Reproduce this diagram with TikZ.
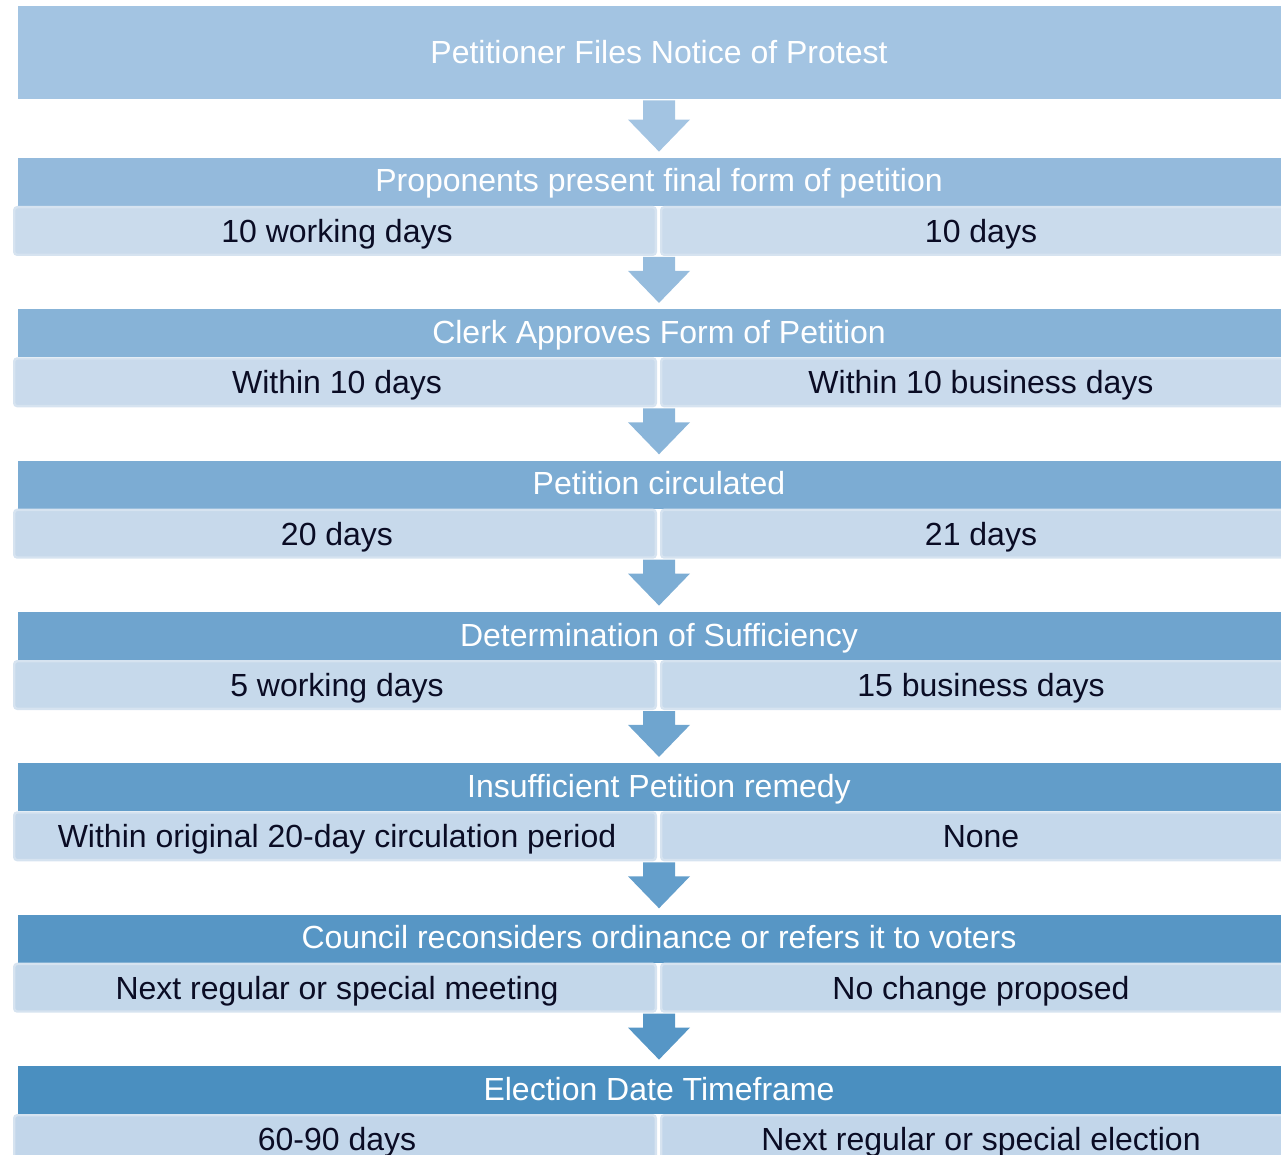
\documentclass[tikz,border=0pt]{standalone}
\usepackage{fontspec}
\setmainfont{Liberation Sans}
\usetikzlibrary{calc}
\definecolor{topbox}{RGB}{163,196,226}
\definecolor{hlight}{RGB}{148,186,220}
\definecolor{hdark}{RGB}{74,143,192}
\definecolor{alight}{RGB}{163,196,226}
\definecolor{adark}{RGB}{86,150,198}
\definecolor{sublight}{RGB}{202,219,236}
\definecolor{subdark}{RGB}{194,214,234}
\definecolor{subedge}{RGB}{214,227,240}
\definecolor{subtext}{RGB}{10,12,36}

\begin{document}
\begin{tikzpicture}[x=0.5pt,y=-0.5pt,
  every node/.style={font=\fontsize{16}{19}\selectfont,inner sep=0pt,
    text height=15pt,text depth=3.5pt},
  top/.style={fill=topbox,text=white,minimum width=641pt,minimum height=46.5pt},
  head/.style={text=white,text height=13.5pt,minimum width=641pt,minimum height=24pt},
  sub/.style={draw=subedge,line width=1.2pt,rounded corners=1.5pt,
    minimum height=23.8pt,text=subtext},
  subl/.style={sub,minimum width=320.8pt},
  subr/.style={sub,minimum width=319.8pt}]
\clip (0,0) rectangle (1281,1155);

\node[top] (t0) at (659,52.5) {Petitioner Files Notice of Protest};

\node[head,fill=hlight]           (h1) at (659,182)    {Proponents present final form of petition};
\node[subl,fill=sublight]         (l1) at (335,231)    {\hspace{2pt}10 working days};
\node[subr,fill=sublight]         (r1) at (981,231)    {10 days};

\node[head,fill=hdark!17!hlight]  (h2) at (659,333.3)  {Clerk Approves Form of Petition};
\node[subl,fill=subdark!17!sublight] (l2) at (335,382.3) {\hspace{2pt}Within 10 days};
\node[subr,fill=subdark!17!sublight] (r2) at (981,382.3) {Within 10 business days};

\node[head,fill=hdark!33!hlight]  (h3) at (659,484.7)  {Petition circulated};
\node[subl,fill=subdark!33!sublight] (l3) at (335,533.7) {\hspace{2pt}20 days};
\node[subr,fill=subdark!33!sublight] (r3) at (981,533.7) {21 days};

\node[head,fill=hdark!50!hlight]  (h4) at (659,636)    {Determination of Sufficiency};
\node[subl,fill=subdark!50!sublight] (l4) at (335,685)   {\hspace{2pt}5 working days};
\node[subr,fill=subdark!50!sublight] (r4) at (981,685)   {15 business days};

\node[head,fill=hdark!67!hlight]  (h5) at (659,787.3)  {Insufficient Petition remedy};
\node[subl,fill=subdark!67!sublight] (l5) at (335,836.3) {\hspace{2pt}Within original 20-day circulation period};
\node[subr,fill=subdark!67!sublight] (r5) at (981,836.3) {None};

\node[head,fill=hdark!83!hlight]  (h6) at (659,938.7)  {Council reconsiders ordinance or refers it to voters};
\node[subl,fill=subdark!83!sublight] (l6) at (335,987.7) {\hspace{2pt}Next regular or special meeting};
\node[subr,fill=subdark!83!sublight] (r6) at (981,987.7) {No change proposed};

\node[head,fill=hdark]            (h7) at (659,1090)   {Election Date Timeframe};
\node[subl,fill=subdark]          (l7) at (335,1139)   {\hspace{2pt}60-90 days};
\node[subr,fill=subdark]          (r7) at (981,1139)   {Next regular or special election};

% block arrows between the steps
\foreach \a/\b/\p in {t0/h1/0,l1/h2/17,l2/h3/33,l3/h4/50,l4/h5/67,l5/h6/83,l6/h7/100}
  \fill[adark!\p!alight] ($(\b.north |- \a.south)+(-16,1)$) -- ($(\b.north)+(-16,-38)$)
    -- ($(\b.north)+(-31,-38)$) -- ($(\b.north)+(0,-6)$) -- ($(\b.north)+(31,-38)$)
    -- ($(\b.north)+(16,-38)$) -- ($(\b.north |- \a.south)+(16,1)$) -- cycle;
\end{tikzpicture}
\end{document}
